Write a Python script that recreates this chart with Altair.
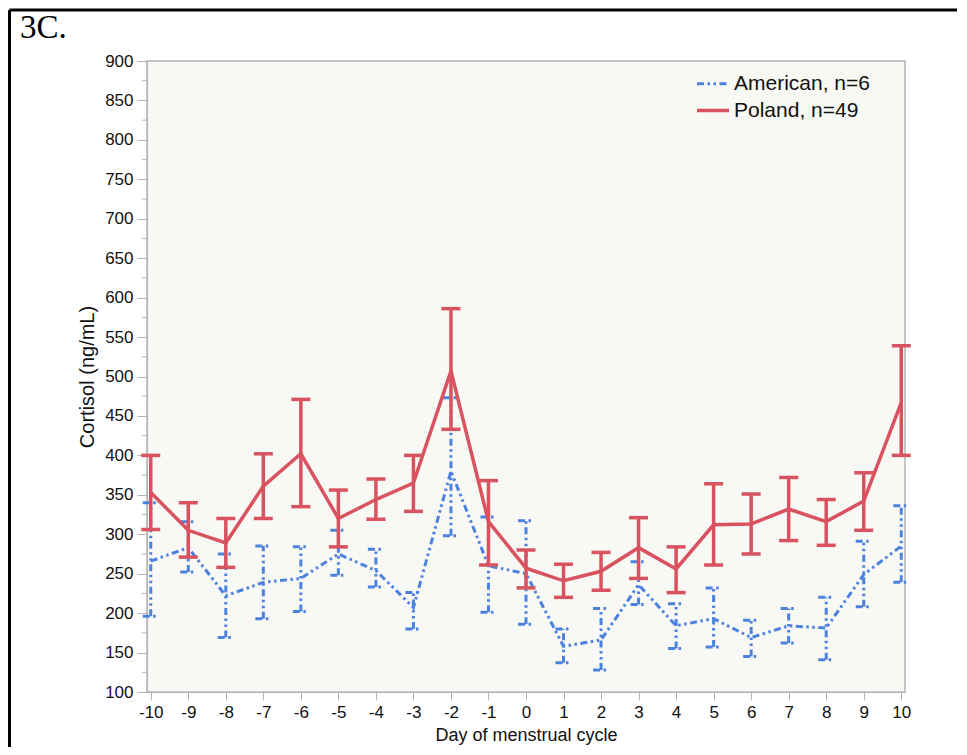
import altair as alt
import pandas as pd

days = list(range(-10, 11))
poland_mean = [353, 305, 289, 361, 402, 320, 344, 365, 507, 316, 257, 241, 253, 283, 256, 312, 313, 332, 316, 342, 467]
poland_upper = [400, 340, 320, 402, 471, 356, 370, 400, 586, 368, 280, 262, 277, 321, 284, 364, 351, 372, 344, 378, 539]
poland_lower = [306, 271, 258, 320, 335, 284, 319, 329, 433, 261, 232, 220, 229, 244, 226, 261, 275, 292, 286, 305, 400]
american_mean = [266, 283, 222, 239, 244, 275, 254, 207, 380, 260, 250, 158, 166, 236, 184, 193, 169, 184, 181, 249, 285]
american_upper = [340, 316, 275, 285, 284, 305, 281, 226, 473, 322, 317, 180, 206, 265, 212, 232, 191, 206, 220, 291, 336]
american_lower = [196, 252, 169, 193, 202, 248, 233, 180, 298, 201, 186, 137, 128, 211, 155, 157, 145, 162, 141, 208, 239]
y_major = list(range(100, 901, 50))
y_minor = list(range(125, 900, 50))
legend_labels = ["American, n=6", "Poland, n=49"]

BLUE = "#4C82DE"
RED = "#D9525F"
GRAY = "#B4B4B4"
FONT = "Liberation Sans"
W, H = 758, 631
XT = "Day of menstrual cycle"
YT = "Cortisol (ng/mL)"

pol = pd.DataFrame({"day": days, "mean": poland_mean, "lower": poland_lower, "upper": poland_upper})
ame = pd.DataFrame({"day": days, "mean": american_mean, "lower": american_lower, "upper": american_upper})

xscale = alt.Scale(domain=[-10.1, 10.1], nice=False, zero=False)
yscale = alt.Scale(domain=[100, 900], nice=False, zero=False)

x_axis = alt.Axis(values=days, grid=False, tickSize=8, labelExpr="'' + datum.value",
                  labelFontSize=17, titleFontSize=18, labelFont=FONT, titleFont=FONT,
                  labelColor="#111", titleColor="#111", titleFontWeight="normal",
                  domainColor=GRAY, tickColor=GRAY, labelPadding=4, titlePadding=6,
                  labelFlush=False)
y_axis = alt.Axis(values=y_major, grid=False, tickSize=10, labelExpr="'' + datum.value",
                  labelFontSize=17, titleFontSize=20, labelFont=FONT, titleFont=FONT,
                  labelColor="#111", titleColor="#111", titleFontWeight="normal",
                  domainColor=GRAY, tickColor=GRAY, labelPadding=4, titlePadding=7,
                  labelFlush=False)


def X(field):
    return alt.X(field, scale=xscale, axis=x_axis, title=XT)


def Y(field):
    return alt.Y(field, scale=yscale, axis=y_axis, title=YT)


def series(df, color, width, dash=None, cap=9):
    kw = {"color": color, "strokeWidth": width}
    if dash is not None:
        kw["strokeDash"] = dash
    base = alt.Chart(df)
    bars = base.mark_rule(**kw).encode(x=X("day:Q"), y=Y("lower:Q"), y2="upper:Q")
    cap_u = base.mark_rule(xOffset=-cap, x2Offset=cap, **kw).encode(
        x=X("day:Q"), x2="day:Q", y=Y("upper:Q"))
    cap_l = base.mark_rule(xOffset=-cap, x2Offset=cap, **kw).encode(
        x=X("day:Q"), x2="day:Q", y=Y("lower:Q"))
    line = base.mark_line(**kw).encode(x=X("day:Q"), y=Y("mean:Q"))
    return [bars, cap_u, cap_l, line]


dummy = pd.DataFrame({"a": [0]})

frame_left = alt.Chart(dummy).mark_rule(color="black", strokeWidth=3).encode(
    x=alt.value(-137.5), y=alt.value(-51), y2=alt.value(686))
frame_top = alt.Chart(dummy).mark_rule(color="black", strokeWidth=3).encode(
    x=alt.value(-137.5), x2=alt.value(810), y=alt.value(-51))

minor = alt.Chart(pd.DataFrame({"v": y_minor})).mark_rule(color=GRAY, strokeWidth=1).encode(
    x=alt.value(-5), x2=alt.value(0), y=Y("v:Q"))

label_3c = alt.Chart(dummy).mark_text(text="3C.", font="Liberation Serif", fontSize=33,
                                      align="left", baseline="alphabetic", color="black").encode(
    x=alt.value(-127), y=alt.value(-23))

blue_dash = [7, 3.5, 2.5, 3.5, 2.5, 3.5]

leg_blue = alt.Chart(dummy).mark_rule(color=BLUE, strokeWidth=3, strokeDash=blue_dash).encode(
    x=alt.value(550), x2=alt.value(582), y=alt.value(22.8))
leg_red = alt.Chart(dummy).mark_rule(color=RED, strokeWidth=3.5).encode(
    x=alt.value(550), x2=alt.value(582), y=alt.value(49.5))
leg_text = alt.Chart(pd.DataFrame({"label": legend_labels, "ypos": [22.8, 49.5]})).mark_text(
    font=FONT, fontSize=21, align="left", baseline="middle", color="#111").encode(
    x=alt.value(587), y=alt.Y("ypos:Q", scale=None), text="label:N")

layers = [frame_left, frame_top, minor]
layers += series(ame, BLUE, 3, dash=blue_dash, cap=8)
layers += series(pol, RED, 3.5, cap=9.5)
layers += [leg_blue, leg_red, leg_text, label_3c]

chart = alt.layer(*layers).properties(
    width=W, height=H, padding=0, background="white"
).configure_view(
    fill="#F8F8F4", stroke=GRAY, strokeWidth=1.5
)

chart.save("out.html", embed_options={"renderer": "svg", "actions": False})
